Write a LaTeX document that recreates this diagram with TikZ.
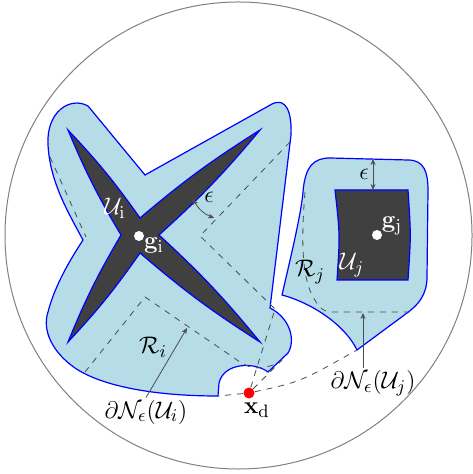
\documentclass[tikz,border=0pt]{standalone}
\usepackage{tikz}
\usetikzlibrary{arrows.meta}
\definecolor{reg}{RGB}{181,220,231}
\definecolor{obs}{RGB}{64,64,64}

\begin{document}
\begin{tikzpicture}[x=0.5pt,y=-0.5pt,
  region/.style={fill=reg,draw=blue,line width=0.6pt},
  obstacle/.style={fill=obs,draw=blue,line width=0.6pt},
  guide/.style={draw=black!70,dashed,line width=0.4pt},
  lbl/.style={font=\fontsize{13}{15}\selectfont,inner sep=1pt},
  wlbl/.style={lbl,text=white},
  dot/.style={circle,fill=white,inner sep=0pt,minimum size=5pt},
  ptr/.style={draw=black!70,line width=0.4pt,-{Stealth[length=3pt,width=2.5pt]}},
  dptr/.style={ptr,{Stealth[length=3pt,width=2.5pt]}-{Stealth[length=3pt,width=2.5pt]}}]

\useasboundingbox (0,0) rectangle (472,474);
\draw[black!50,line width=0.5pt] (238.5,235.5) circle[radius=233.5];

% region around U_i
\draw[region] (48,145) .. controls (46,112) and (70,96) .. (88,106) -- (145,175)
  -- (272,104) .. controls (286,97) and (292,112) .. (291,135) -- (270,308)
  .. controls (290,318) and (296,340) .. (288,353) -- (268,372)
  .. controls (255,362) and (224,362) .. (219,383) -- (218,396)
  .. controls (150,396) and (100,385) .. (75,368)
  .. controls (52,352) and (42,330) .. (48,312)
  .. controls (55,285) and (70,260) .. (83,240)
  .. controls (68,212) and (50,182) .. (48,145) -- cycle;
\draw[obstacle] (68,130) to[bend left=4] (140,218) to[bend left=4] (260,130)
  to[bend left=4] (159,235) to[bend left=4] (260,342) to[bend left=4] (140,253)
  to[bend left=4] (68,342) to[bend left=4] (121,235) to[bend left=4] (68,130) -- cycle;

% region around U_j
\draw[region] (282,295) .. controls (290,260) and (301,215) .. (303,192)
  .. controls (305,166) and (314,158) .. (330,158) -- (408,160)
  .. controls (424,160) and (428,172) .. (428,190) -- (427,277)
  .. controls (427,295) and (418,305) .. (407,313) -- (357,350)
  .. controls (345,325) and (312,303) .. (282,295) -- cycle;
\draw[obstacle] (335,190) -- (408,190) .. controls (411,235) .. (408,280)
  -- (337,280) .. controls (340,235) .. (335,190) -- cycle;

% dashed boundaries
\draw[guide] (305,192) .. controls (301,240) and (302,275) .. (312,295)
  .. controls (318,306) and (322,312) .. (332,312) -- (413,312);
\draw[guide] (50,157) -- (86,237);
\draw[guide] (85,372) -- (145,297) -- (240,362) .. controls (255,372) and (270,368) .. (282,360);
\draw[guide] (290,142) -- (200,236) -- (275,309);

\coordinate (rL) at (218,396);
\coordinate (rA) at (282,360);
\coordinate (rB) at (275,309);
\coordinate (jtip) at (357,350);
\node[circle,fill=red,inner sep=0pt,minimum size=5.5pt] (xd) at (249,393) {};
\draw[guide] (xd) -- (rL);
\draw[guide] (xd) -- (rA);
\draw[guide] (xd) -- (rB);
\draw[guide] (xd) .. controls (300,382) .. (jtip);
\node[lbl] (xdL) at (257,410) {$\mathbf{x}_\mathrm{d}$};

% labels i
\node[wlbl] (Ui) at (115,208) {$\mathcal{U}_\mathrm{i}$};
\node[dot] (gi) at (139,236) {};
\node[wlbl] (giL) at (154,246) {$\mathbf{g}_\mathrm{i}$};
\node[lbl] (Ri) at (153,347) {$\mathcal{R}_i$};
\coordinate (e1a) at (193,199);
\coordinate (e1b) at (214,218);
\draw[dptr] (e1a) to[bend right=20] (e1b);
\node[lbl] (eps1) at (209,197) {$\epsilon$};
\node[lbl] (nUi) at (146,412) {$\partial\mathcal{N}_\epsilon(\mathcal{U}_i)$};
\coordinate (aUi) at (187,328);
\draw[ptr] (nUi.north) -- (aUi);

% labels j
\node[wlbl] (Uj) at (352,265) {$\mathcal{U}_j$};
\node[dot] (gj) at (377,235) {};
\node[wlbl] (gjL) at (392,226) {$\mathbf{g}_\mathrm{j}$};
\node[lbl] (Rj) at (310,272) {$\mathcal{R}_j$};
\coordinate (e2a) at (373,159);
\coordinate (e2b) at (373,190);
\draw[dptr] (e2a) -- (e2b);
\node[lbl] (eps2) at (364,174) {$\epsilon$};
\node[lbl] (nUj) at (373,383) {$\partial\mathcal{N}_\epsilon(\mathcal{U}_j)$};
\coordinate (aUj) at (363,313);
\draw[ptr] (aUj |- nUj.north) -- (aUj);
\end{tikzpicture}
\end{document}
